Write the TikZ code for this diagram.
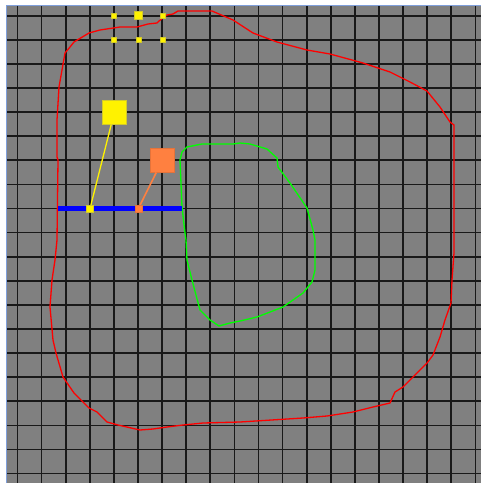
\documentclass[tikz,border=0pt]{standalone}
\usepackage{tikz}
\usetikzlibrary{positioning}
\usepackage{xcolor}
\definecolor{panelgray}{HTML}{808080}
\definecolor{edgeblue}{HTML}{7F9FDB}
\definecolor{ctrlorange}{HTML}{FF8040}

\begin{document}
\begin{tikzpicture}[
  x=1pt, y=-1pt,
  gridline/.style={line width=1.7pt, black!90},
  handle/.style={draw=yellow!80!black, fill=yellow, inner sep=0pt,
    minimum size=#1, line width=0.5pt},
  ctrlbox/.style={inner sep=0pt, minimum size=#1, line width=0.5pt},
  outline/.style={line width=1.3pt, line join=round}
]
  \useasboundingbox[fill=white] (0,0) rectangle (481,483);

  % Panel and grid
  \fill[panelgray] (6,5) rectangle (481,483);
  \foreach \k in {0,...,19} {
    \draw[gridline] ({17.5+24.1*\k},5) -- ({17.5+24.1*\k},483);
    \draw[gridline] (6,{15.7+24.1*\k}) -- (481,{15.7+24.1*\k});
  }
  \draw[edgeblue, line width=1pt] (6,483) -- (6,5) -- (481,5);

  % Outer contour
  \draw[outline, red] (212,11) -- (233,20) -- (253,33) -- (277,42) -- (307,50)
    -- (330,54) -- (363,63) -- (390,72) -- (410,82) -- (427,91) -- (440,107)
    -- (450,122) -- (454,125) -- (454,253) -- (452,280) -- (451,303)
    -- (445,320) -- (440,337) -- (433,355) -- (427,363) -- (413,377)
    -- (403,387) -- (395,392) -- (390,403) -- (373,407) -- (353,412)
    -- (327,416) -- (303,418) -- (240,422) -- (203,423) -- (183,425)
    -- (167,427) -- (153,429) -- (140,430) -- (118,425) -- (107,422)
    -- (97,412) -- (89,408) -- (74,393) -- (63,377) -- (56,353) -- (53,340)
    -- (50,307) -- (52,280) -- (55,260) -- (57,240) -- (58,160) -- (57,157)
    -- (57,120) -- (59,87) -- (62,70) -- (65,53) -- (70,47) -- (74,42)
    -- (89,33) -- (100,30) -- (120,27) -- (137,27) -- (148,24) -- (157,23)
    -- (159,21) -- (167,15) -- (173,14) -- (178,11) -- cycle;

  % Inner contour
  \draw[outline, green] (202,144) -- (233,144) -- (240,143) -- (250,144)
    -- (267,149) -- (277,158) -- (278,167) -- (290,183) -- (307,208)
    -- (313,230) -- (315,240) -- (315,270) -- (312,282) -- (303,293)
    -- (283,307) -- (257,317) -- (240,321) -- (230,323) -- (219,326)
    -- (210,320) -- (200,310) -- (192,280) -- (187,260) -- (186,240)
    -- (185,233) -- (182,207) -- (180,160) -- (182,152) -- (187,147) -- cycle;

  % Rod
  \coordinate (rodl) at (58,208.7);
  \coordinate (rodr) at (182,208.7);
  \draw[blue, line width=5pt] (rodl) -- (rodr);

  % Handles
  \foreach \i/\px/\py/\sz in {1/114/15.7/5pt, 2/138.3/15.7/8pt, 3/162.3/15.7/5pt,
    4/114/40/5pt, 5/138.3/40/5pt, 6/162.3/40/5pt} {
    \node[handle=\sz] (hnd\i) at (\px,\py) {};
  }

  % Knots and control boxes
  \node[handle=7pt] (knotA) at (90,208.7) {};
  \node[ctrlbox=7pt, fill=ctrlorange, draw=ctrlorange!90!black] (knotB) at (138.3,208.7) {};
  \node[handle=24pt] (ctrlA) at (114.3,112.3) {};
  \node[ctrlbox=24pt, fill=ctrlorange, draw=ctrlorange!90!black] (ctrlB) at (162.3,160.3) {};

  \draw[yellow, line width=1.3pt] (knotA) -- (ctrlA);
  \draw[ctrlorange, line width=1.6pt] (knotB) -- (ctrlB);
\end{tikzpicture}
\end{document}
